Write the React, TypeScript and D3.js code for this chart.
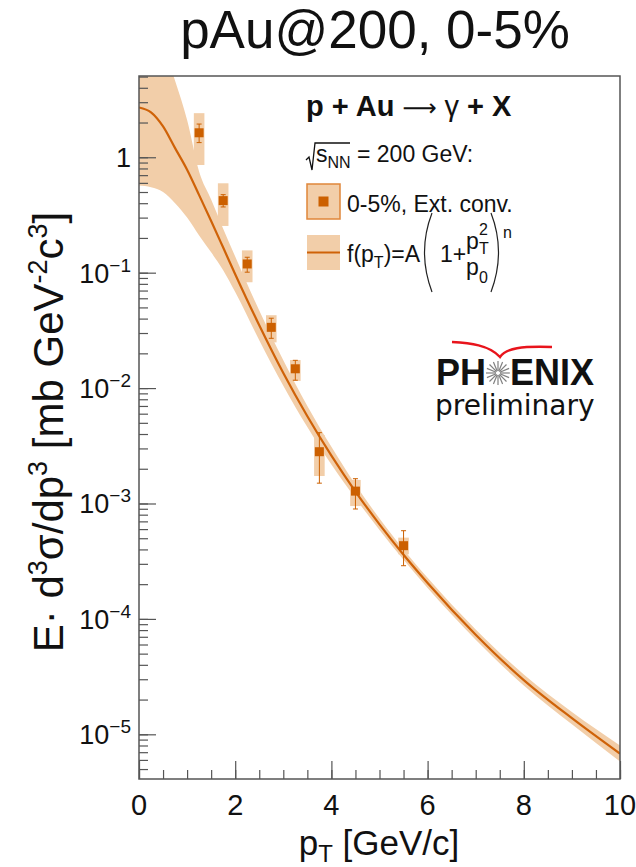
import React, { useEffect, useRef } from "react";
import * as d3 from "d3";

// fit curve (pT grid, central value and band edges)
const ptGrid = [0, 0.25, 0.5, 0.75, 1, 1.25, 1.5, 1.75, 2, 2.5, 3, 3.5, 4, 4.5, 5, 5.5, 6, 7, 8, 9, 10];
const fitCentral = [2.7, 2.45, 1.85, 1.2, 0.78, 0.47, 0.28, 0.165, 0.097, 0.035, 0.0135, 0.0057, 0.0026, 0.00127, 0.00066, 0.00036, 0.000205, 7.3e-5, 2.95e-5, 1.38e-5, 6.8e-6];
const fitUpper = [30, 16, 9, 4.6, 2.1, 0.75, 0.43, 0.24, 0.138, 0.047, 0.0174, 0.007, 0.0031, 0.00146, 0.00074, 0.000399, 0.000227, 8.1e-5, 3.3e-5, 1.56e-5, 8.0e-6];
const fitLower = [0.57, 0.55, 0.5, 0.4, 0.3, 0.21, 0.15, 0.105, 0.068, 0.026, 0.0105, 0.0046, 0.00218, 0.00111, 0.00059, 0.000325, 0.000185, 6.6e-5, 2.65e-5, 1.22e-5, 5.8e-6];

// measured points, 0-5% ext. conv.
const ptData = [1.25, 1.75, 2.25, 2.75, 3.25, 3.75, 4.5, 5.5];
const yieldData = [1.63, 0.421, 0.119, 0.0336, 0.0147, 0.00281, 0.00128, 0.000431];
const statLo = [1.34, 0.371, 0.101, 0.027, 0.0117, 0.0015, 0.000896, 0.000289];
const statHi = [1.94, 0.474, 0.136, 0.0403, 0.0174, 0.00411, 0.00164, 0.000581];
const sysLo = [0.857, 0.254, 0.0826, 0.0249, 0.01153, 0.00173, 0.00095, 0.000363];
const sysHi = [2.41, 0.595, 0.156, 0.0428, 0.0175, 0.00392, 0.0016, 0.000506];

const xTicks = [0, 2, 4, 6, 8, 10];
const yTickExp = [0, -1, -2, -3, -4, -5];

const W = 636;
const H = 867;
const left = 139;
const right = 620;
const top = 76;
const bottom = 779;
const sysHalf = 0.11;

const bandColor = "#f2cea9";
const lineColor = "#cf6208";
const markColor = "#cc6000";
const frameColor = "#555";
const font = "'Liberation Sans', Arial, sans-serif";

export default function App() {
  const gRef = useRef<SVGGElement>(null);

  useEffect(() => {
    const root = d3.select(gRef.current);
    root.selectAll("*").remove();

    const x = d3.scaleLinear().domain([0, 10]).range([left, right]);
    const y = d3.scaleLog().domain([4.1e-6, 5.06]).range([bottom, top]);

    root
      .append("defs")
      .append("clipPath")
      .attr("id", "plot-clip")
      .append("rect")
      .attr("x", left)
      .attr("y", top)
      .attr("width", right - left)
      .attr("height", bottom - top);

    const plot = root.append("g").attr("clip-path", "url(#plot-clip)");

    const fitRows = ptGrid.map((p, i) => ({ p, c: fitCentral[i], lo: fitLower[i], hi: fitUpper[i] }));

    const band = d3
      .area<any>()
      .x((d) => x(d.p))
      .y0((d) => y(d.lo))
      .y1((d) => y(d.hi))
      .curve(d3.curveMonotoneX);
    plot.append("path").attr("d", band(fitRows)).attr("fill", bandColor);

    const rows = ptData.map((p, i) => ({
      p,
      v: yieldData[i],
      slo: statLo[i],
      shi: statHi[i],
      ylo: sysLo[i],
      yhi: sysHi[i],
    }));

    // systematic boxes
    plot
      .selectAll("rect.sys")
      .data(rows)
      .enter()
      .append("rect")
      .attr("class", "sys")
      .attr("x", (d) => x(d.p - sysHalf))
      .attr("y", (d) => y(d.yhi))
      .attr("width", (d) => x(d.p + sysHalf) - x(d.p - sysHalf))
      .attr("height", (d) => y(d.ylo) - y(d.yhi))
      .attr("fill", bandColor);

    const line = d3
      .line<any>()
      .x((d) => x(d.p))
      .y((d) => y(d.c))
      .curve(d3.curveMonotoneX);
    plot
      .append("path")
      .attr("d", line(fitRows))
      .attr("fill", "none")
      .attr("stroke", lineColor)
      .attr("stroke-width", 2.2);

    // stat errors
    const err = plot.selectAll("g.err").data(rows).enter().append("g").attr("class", "err");
    err
      .append("line")
      .attr("x1", (d) => x(d.p))
      .attr("x2", (d) => x(d.p))
      .attr("y1", (d) => y(d.shi))
      .attr("y2", (d) => y(d.slo))
      .attr("stroke", markColor)
      .attr("stroke-width", 1);
    ["shi", "slo"].forEach((k) => {
      err
        .append("line")
        .attr("x1", (d) => x(d.p) - 2.5)
        .attr("x2", (d) => x(d.p) + 2.5)
        .attr("y1", (d: any) => y(d[k]))
        .attr("y2", (d: any) => y(d[k]))
        .attr("stroke", markColor)
        .attr("stroke-width", 1);
    });
    err
      .append("rect")
      .attr("x", (d) => x(d.p) - 4.5)
      .attr("y", (d) => y(d.v) - 4.5)
      .attr("width", 9)
      .attr("height", 9)
      .attr("fill", markColor);

    // frame
    root
      .append("rect")
      .attr("x", left)
      .attr("y", top)
      .attr("width", right - left)
      .attr("height", bottom - top)
      .attr("fill", "none")
      .attr("stroke", frameColor)
      .attr("stroke-width", 1.5);

    // x axis ticks (inward)
    const xMajor = d3.axisBottom(x).tickValues(xTicks).tickSize(-18).tickFormat(() => "");
    const xMinor = d3.axisBottom(x).tickValues(d3.range(0, 10.01, 0.5)).tickSize(-9).tickFormat(() => "");
    [xMinor, xMajor].forEach((ax) => {
      const g = root.append("g").attr("transform", `translate(0,${bottom})`).call(ax);
      g.select(".domain").remove();
      g.selectAll("line").attr("stroke", frameColor).attr("stroke-width", 1.2);
    });

    root
      .append("g")
      .selectAll("text")
      .data(xTicks)
      .enter()
      .append("text")
      .attr("x", (d) => x(d))
      .attr("y", 815)
      .attr("text-anchor", "middle")
      .attr("font-family", font)
      .attr("font-size", 29)
      .attr("fill", "#111")
      .text((d) => d);

    // y axis ticks (inward)
    const minorVals: number[] = [];
    for (let e = -6; e <= 0; e++) for (let m = 1; m <= 9; m++) minorVals.push(m * Math.pow(10, e));
    const yMinorVals = minorVals.filter((v) => v >= 4.1e-6 && v <= 5.06);
    const yMinor = d3.axisLeft(y).tickValues(yMinorVals).tickSize(-9).tickFormat(() => "");
    const yMajor = d3
      .axisLeft(y)
      .tickValues(yTickExp.map((e) => Math.pow(10, e)))
      .tickSize(-17)
      .tickFormat(() => "");
    [yMinor, yMajor].forEach((ax) => {
      const g = root.append("g").attr("transform", `translate(${left},0)`).call(ax);
      g.select(".domain").remove();
      g.selectAll("line").attr("stroke", frameColor).attr("stroke-width", 1.2);
    });

    const yl = root
      .append("g")
      .selectAll("text")
      .data(yTickExp)
      .enter()
      .append("text")
      .attr("x", 131)
      .attr("y", (d) => y(Math.pow(10, d)) + 10)
      .attr("text-anchor", "end")
      .attr("font-family", font)
      .attr("font-size", 27)
      .attr("fill", "#111");
    yl.each(function (d) {
      const t = d3.select(this);
      if (d === 0) {
        t.text("1");
      } else {
        t.append("tspan").text("10");
        t.append("tspan").attr("font-size", 19).attr("dy", -11).text("\u2212" + -d);
      }
    });
  }, []);

  const star = d3.range(16).map((i) => (i * Math.PI) / 8);

  return (
    <svg width={W} height={H} style={{ position: "absolute", left: 0, top: 0, background: "white" }}>
      <g ref={gRef} />
      <g fontFamily={font} fill="#111">
        <text x={375} y={48} textAnchor="middle" fontSize={53}>
          pAu@200, 0-5%
        </text>
        <text x={379} y={855} textAnchor="middle" fontSize={35}>
          p<tspan fontSize={24} dy={7}>T</tspan>
          <tspan dy={-7}> [GeV/c]</tspan>
        </text>
        <text transform="translate(63,432) rotate(-90)" textAnchor="middle" fontSize={42}>
          E· d<tspan fontSize={27} dy={-16}>3</tspan>
          <tspan dy={16}>σ/dp</tspan>
          <tspan fontSize={27} dy={-16}>3</tspan>
          <tspan dy={16}> [mb GeV</tspan>
          <tspan fontSize={27} dy={-16}>-2</tspan>
          <tspan dy={16}>c</tspan>
          <tspan fontSize={27} dy={-16}>3</tspan>
          <tspan dy={16}>]</tspan>
        </text>

        {/* legend */}
        <text x={306} y={116} fontSize={29}>
          <tspan fontWeight="bold">p + Au </tspan>
          <tspan fontFamily="'DejaVu Sans', sans-serif" fontSize={24}> ⟶ </tspan>
          <tspan> γ </tspan>
          <tspan fontWeight="bold">+ X</tspan>
        </text>
        <path d="M306,160 L309,157 L312,170 L315,143 L350,143" fill="none" stroke="#111" strokeWidth={1.3} />
        <text x={316} y={162} fontSize={23}>
          s<tspan fontSize={16} dy={6}>NN</tspan>
          <tspan dy={-6}> = 200 GeV:</tspan>
        </text>
        <rect x={307} y={184} width={33} height={35} fill={bandColor} stroke="#e0863a" strokeWidth={1.5} />
        <rect x={318.5} y={196.5} width={10} height={10} fill={markColor} />
        <text x={347} y={212} fontSize={23}>
          0-5%, Ext. conv.
        </text>
        <rect x={307} y={235} width={33} height={35} fill={bandColor} />
        <line x1={307} x2={340} y1={252.5} y2={252.5} stroke={lineColor} strokeWidth={2} />
        <text x={347} y={262} fontSize={23}>
          f(p<tspan fontSize={16} dy={6}>T</tspan>
          <tspan dy={-6}>)=A</tspan>
        </text>
        <path d="M432,213 Q417,252 432,292" fill="none" stroke="#222" strokeWidth={1.2} />
        <text x={440} y={262} fontSize={23}>
          1+
        </text>
        <text x={466} y={249} fontSize={23}>
          p
        </text>
        <text x={479} y={235} fontSize={16}>
          2
        </text>
        <text x={479} y={254} fontSize={16}>
          T
        </text>
        <text x={466} y={275} fontSize={23}>
          p
        </text>
        <text x={479} y={283} fontSize={16}>
          0
        </text>
        <path d="M491,213 Q506,252 491,292" fill="none" stroke="#222" strokeWidth={1.2} />
        <text x={503} y={238} fontSize={16}>
          n
        </text>

        {/* PHENIX preliminary */}
        <path
          d="M452,342 C470,343 489,345 500,357 C506,348 522,346 552,347"
          fill="none"
          stroke="#e8141c"
          strokeWidth={2.4}
        />
        <text x={436} y={385} fontSize={36} fontWeight="bold">
          PH
        </text>
        <text x={510} y={385} fontSize={36} fontWeight="bold">
          ENIX
        </text>
        <g stroke="#808080" strokeWidth={1.2}>
          {star.map((a, i) => (
            <line
              key={i}
              x1={498 + 2 * Math.cos(a)}
              y1={373 + 2 * Math.sin(a)}
              x2={498 + 12 * Math.cos(a)}
              y2={373 + 12 * Math.sin(a)}
            />
          ))}
        </g>
        <text x={435} y={415} fontSize={28} fontFamily="'DejaVu Sans', sans-serif">
          preliminary
        </text>
      </g>
    </svg>
  );
}
